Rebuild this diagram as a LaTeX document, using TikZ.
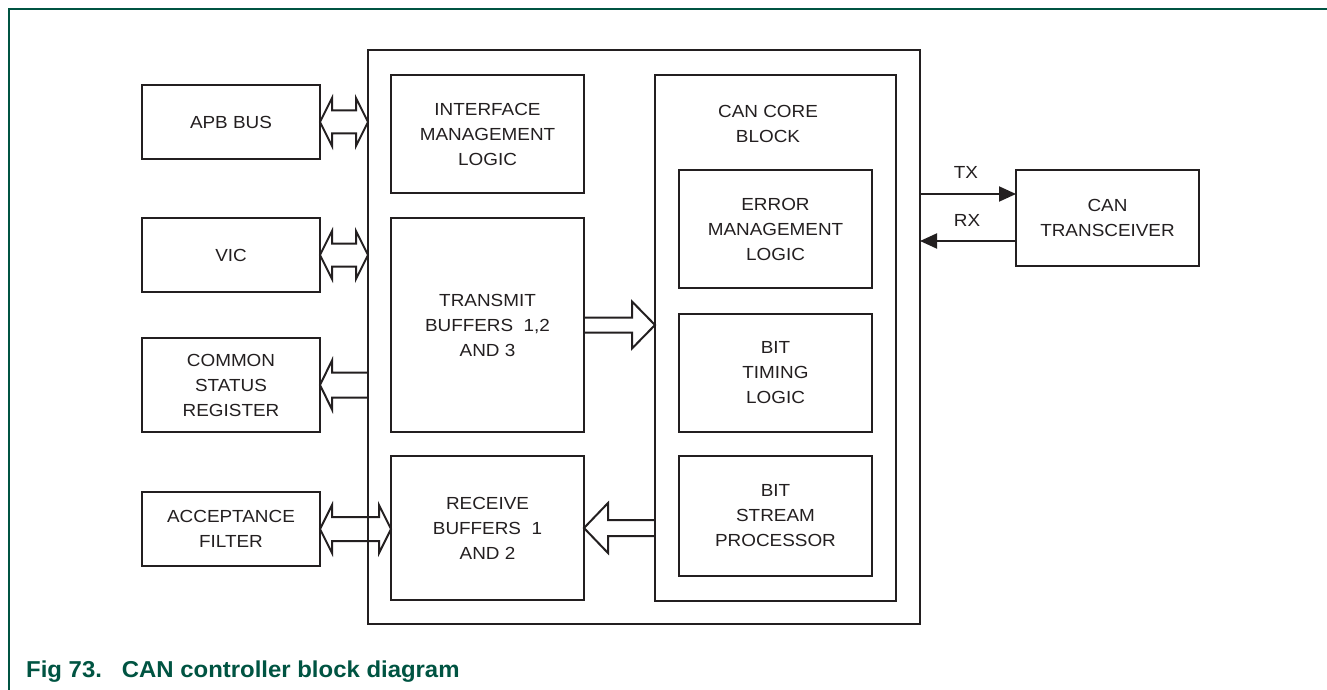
\documentclass[tikz,border=0pt]{standalone}
\usepackage{fontspec}
\setmainfont[FakeStretch=1.08]{Liberation Sans}
\newfontfamily\capfont[FakeStretch=1.04]{Liberation Sans}
\usetikzlibrary{calc,arrows.meta}
\definecolor{ink}{RGB}{35,31,32}
\definecolor{nxpgreen}{RGB}{0,84,66}
\newcommand\dblarrow[5]{% #1 left tip, #2 right tip, #3 head length, #4 head half width, #5 shaft half width
  \draw[fat] (#1) -- ($(#1)+(#3,-#4)$) -- ($(#1)+(#3,-#5)$) -- ($(#2)+(-#3,-#5)$) -- ($(#2)+(-#3,-#4)$) -- (#2)
    -- ($(#2)+(-#3,#4)$) -- ($(#2)+(-#3,#5)$) -- ($(#1)+(#3,#5)$) -- ($(#1)+(#3,#4)$) -- cycle;}
\newcommand\leftarrowfat[5]{% #1 tip (left), #2 tail (right)
  \draw[fat] ($(#2)+(0,-#5)$) -- ($(#1)+(#3,-#5)$) -- ($(#1)+(#3,-#4)$) -- (#1) -- ($(#1)+(#3,#4)$) -- ($(#1)+(#3,#5)$) -- ($(#2)+(0,#5)$);}
\newcommand\rightarrowfat[5]{% #1 tail (left), #2 tip (right)
  \draw[fat] ($(#1)+(0,-#5)$) -- ($(#2)+(-#3,-#5)$) -- ($(#2)+(-#3,-#4)$) -- (#2) -- ($(#2)+(-#3,#4)$) -- ($(#2)+(-#3,#5)$) -- ($(#1)+(0,#5)$);}
\begin{document}
\begin{tikzpicture}[x=1pt,y=-1pt,
  txt/.style={font=\fontsize{17.5}{25}\selectfont, text=ink, align=center, inner sep=0pt},
  box/.style={txt, draw=ink, line width=2pt, outer sep=0pt, anchor=north west},
  fat/.style={draw=ink, line width=2pt, line join=miter},
  conn/.style={draw=ink, line width=2pt, -{Triangle[length=17pt,width=15pt]}},
  frame/.style={draw=nxpgreen, line width=1.6pt}]
\fill[white] (0,0) rectangle (1327,690);
\useasboundingbox (0,0) rectangle (1327,690);
% page frame
\draw[frame] (9,690) -- (9,9) -- (1327,9);
% left column
\node[box, minimum width=178pt, minimum height=74pt] (apb) at (142,85) {APB BUS};
\node[box, minimum width=178pt, minimum height=74pt] (vic) at (142,218) {VIC};
\node[box, minimum width=178pt, minimum height=94pt] (csr) at (142,338) {COMMON\\STATUS\\REGISTER};
\node[box, minimum width=178pt, minimum height=74pt] (acc) at (142,492) {ACCEPTANCE\\FILTER};
% main controller block
\node[box, minimum width=552pt, minimum height=574pt] (main) at (368,50) {};
\node[box, minimum width=193pt, minimum height=118pt] (iml) at (391,75) {INTERFACE\\MANAGEMENT\\LOGIC};
\node[box, minimum width=193pt, minimum height=214pt] (tx) at (391,218) {TRANSMIT\\BUFFERS\ \ 1,2\\AND 3};
\node[box, minimum width=193pt, minimum height=144pt] (rx) at (391,456) {RECEIVE\\BUFFERS\ \ 1\\AND 2};
\node[box, minimum width=241pt, minimum height=526pt] (core) at (655,75) {};
\node[txt] (corelbl) at (768,124) {CAN CORE\\BLOCK};
\node[box, minimum width=193pt, minimum height=118pt] (err) at (679,170) {ERROR\\MANAGEMENT\\LOGIC};
\node[box, minimum width=193pt, minimum height=118pt] (bt) at (679,314) {BIT\\TIMING\\LOGIC};
\node[box, minimum width=193pt, minimum height=120pt] (bsp) at (679,456) {BIT\\STREAM\\PROCESSOR};
% transceiver
\node[box, minimum width=183pt, minimum height=96pt] (trx) at (1016,170) {CAN\\TRANSCEIVER};
% fat arrows
\coordinate (apbR) at (apb.east -| main.west);
\coordinate (vicR) at (vic.east -| main.west);
\coordinate (csrR) at (csr.east -| main.west);
\coordinate (accR) at (acc.east -| rx.west);
\coordinate (txR) at (tx.east -| core.west);
\coordinate (rxR) at (rx.east -| core.west);
\dblarrow{apb.east}{apbR}{12}{24}{11.5}
\dblarrow{vic.east}{vicR}{12}{24}{11.5}
\leftarrowfat{csr.east}{csrR}{12}{24.5}{12.5}
\dblarrow{acc.east}{accR}{12}{24}{12}
\rightarrowfat{tx.east}{txR}{23}{23.5}{7.5}
\leftarrowfat{rx.east}{rxR}{24}{25}{8}
% TX / RX
\path (trx.west) ++(0,-24) coordinate (txe);
\coordinate (txs) at (txe -| main.east);
\path (trx.west) ++(0,23) coordinate (rxs);
\coordinate (rxe) at (rxs -| main.east);
\draw[conn] (txs) -- (txe);
\draw[conn] (rxs) -- (rxe);
\node[txt] (txl) at (966,172) {TX};
\node[txt] (rxl) at (967,220) {RX};
% caption
\node[anchor=base west, inner sep=0pt, text=nxpgreen, font=\capfont\bfseries\fontsize{23}{27}\selectfont] (cap) at (26,677) {Fig 73.\hspace{20pt}CAN controller block diagram};
\end{tikzpicture}
\end{document}
